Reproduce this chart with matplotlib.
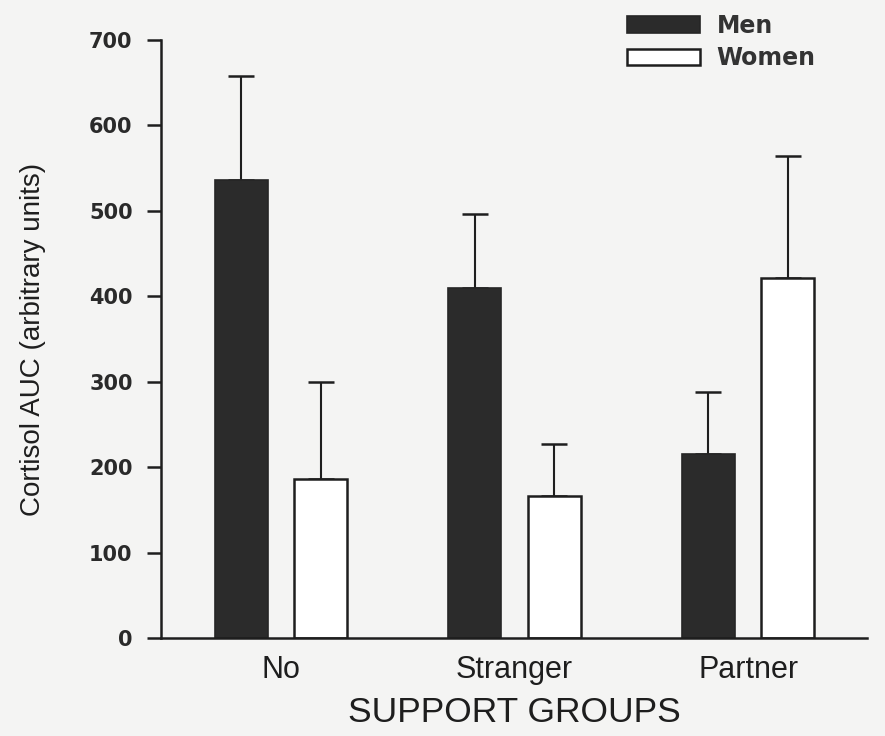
import matplotlib
matplotlib.use("Agg")
import matplotlib.pyplot as plt
import numpy as np

# Cortisol response by support group and sex
categories = ["No", "Stranger", "Partner"]
men = [536, 410, 215]
men_err = [122, 86, 73]
women = [186, 166, 421]
women_err = [114, 61, 143]
yticks = [0, 100, 200, 300, 400, 500, 600, 700]

plt.rcParams["font.family"] = ["Liberation Sans", "DejaVu Sans"]

bg = "#f4f4f3"
ink = "#1e1e1e"
dark = "#2b2b2b"

fig = plt.figure(figsize=(8.85, 7.36), dpi=100, facecolor=bg)
ax = fig.add_axes([0.182, 0.1332, 0.798, 0.8125], facecolor=bg)

x = np.arange(len(categories))
off = 0.17
w = 0.227

ax.bar(x - off, men, width=w, color=dark, edgecolor="#262626", linewidth=1.2,
       label="Men", zorder=2)
ax.bar(x + off, women, width=w, color="white", edgecolor=ink, linewidth=1.8,
       label="Women", zorder=2)

ax.errorbar(x - off, men, yerr=[np.zeros(len(men)), men_err], fmt="none",
            ecolor=ink, elinewidth=1.5, capsize=9.5, capthick=1.8, zorder=1)
ax.errorbar(x + off, women, yerr=[np.zeros(len(women)), women_err], fmt="none",
            ecolor=ink, elinewidth=1.5, capsize=9.5, capthick=1.8, zorder=1)

ax.set_xlim(-0.514, 2.51)
ax.set_ylim(0, 700)

for s in ["top", "right"]:
    ax.spines[s].set_visible(False)
for s in ["left", "bottom"]:
    ax.spines[s].set_color(ink)
    ax.spines[s].set_linewidth(1.8)

ax.set_yticks(yticks)
ax.set_yticklabels([str(v) for v in yticks], fontsize=15, fontweight="bold",
                   color="#2a2a2a", family="DejaVu Sans")
ax.tick_params(axis="y", direction="out", length=10, width=1.8, pad=10.5,
               color=ink)

ax.set_xticks(x)
ax.set_xticklabels(categories, fontsize=22, color=ink)
ax.tick_params(axis="x", length=0, pad=12)

ax.set_xlabel("SUPPORT GROUPS", fontsize=25.5, color=ink, labelpad=8)
ax.set_ylabel("Cortisol AUC (arbitrary units)", fontsize=20, color=ink)
ax.yaxis.set_label_coords(-0.163, 0.5)

leg = ax.legend(loc="upper left", bbox_to_anchor=(627 / 885, 1 - 14 / 736),
                bbox_transform=fig.transFigure, frameon=False,
                prop={"weight": "bold", "size": 17, "family": "DejaVu Sans"},
                handlelength=3.1, handleheight=0.7, labelspacing=0.35,
                handletextpad=0.7, borderpad=0, borderaxespad=0)
for t in leg.get_texts():
    t.set_color("#333333")

fig.savefig("out.png", dpi=100, facecolor=bg)
